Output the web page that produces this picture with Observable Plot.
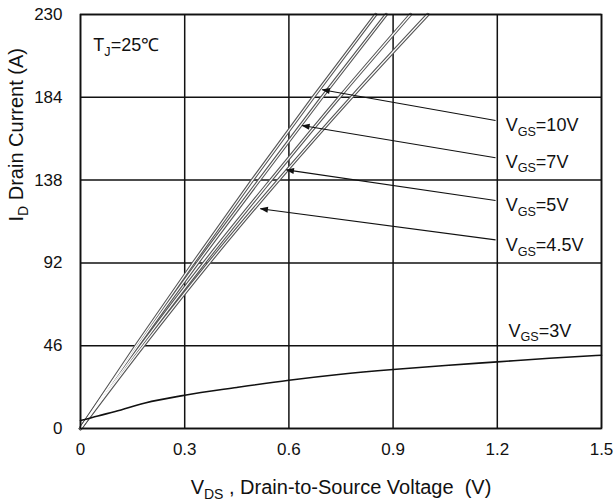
<!DOCTYPE html>
<html><head><meta charset="utf-8">
<script src="https://cdn.jsdelivr.net/npm/d3@7"></script>
<script src="https://cdn.jsdelivr.net/npm/@observablehq/plot@0.6"></script>
<style>html,body{margin:0;padding:0;background:#fff} svg{display:block}</style>
</head><body><div id="chart"></div>
<script>
// ---- data ----
const xTicks = [0, 0.3, 0.6, 0.9, 1.2, 1.5];
const yTicks = [0, 46, 92, 138, 184, 230];

// VGS = 10V, 7V, 5V, 4.5V  (VDS in V, ID in A)
const vds10 = [0, 0.160, 0.325, 0.495, 0.670, 0.850];
const id10  = [0, 46, 92, 138, 184, 230];
const vds7  = [0, 0.165, 0.337, 0.515, 0.695, 0.880];
const id7   = [0, 46, 92, 138, 184, 230];
const vds5  = [0, 0.174, 0.356, 0.548, 0.745, 0.950];
const id5   = [0, 46, 92, 138, 184, 230];
const vds45 = [0, 0.181, 0.370, 0.570, 0.780, 1.000];
const id45  = [0, 46, 92, 138, 184, 230];
// VGS = 3V
const vds3 = [0, 0.05, 0.1, 0.186, 0.3, 0.45, 0.6, 0.743, 0.9, 1.05, 1.2, 1.35, 1.5];
const id3  = [4.4, 7.0, 9.4, 14.2, 18.5, 22.8, 26.8, 30.0, 32.8, 35.0, 37.0, 39.0, 40.7];

const seriesNames = ["10V", "7V", "5V", "4.5V"];

// annotations (data coordinates)
const labelText = ["V_{GS}=10V", "V_{GS}=7V", "V_{GS}=5V", "V_{GS}=4.5V", "V_{GS}=3V"];
const labelV    = [1.224, 1.224, 1.224, 1.224, 1.232];
const labelI    = [168.3, 147.9, 123.9, 101.7, 54.1];
const arrowFromV = [1.195, 1.195, 1.195, 1.195];
const arrowFromI = [171.1, 150.4, 126.7, 104.8];
const arrowToV   = [0.696, 0.638, 0.593, 0.518];
const arrowToI   = [188.2, 168.3, 143.7, 122.1];

const tempText = ["T_{J}=25℃"];
const tempV = [0.037];
const tempI = [212.8];

const xTitle = "V_{DS} , Drain-to-Source Voltage  (V)";
const yTitle = "I_{D} Drain Current (A)";

// ---- tables ----
const highSeries = [[vds10, id10], [vds7, id7], [vds5, id5], [vds45, id45]];
const highRows = highSeries.flatMap(([vs, is], s) => vs.map((v, k) => ({vgs: seriesNames[s], v, i: is[k]})));
const lowRows = vds3.map((v, k) => ({v, i: id3[k]}));
const arrowRows = arrowFromV.map((_, k) => ({x1: arrowFromV[k], y1: arrowFromI[k], x2: arrowToV[k], y2: arrowToI[k]}));
const labelRows = labelText.map((t, k) => ({t, v: labelV[k], i: labelI[k]}));
const tempRows = tempText.map((t, k) => ({t, v: tempV[k], i: tempI[k]}));

const ink = "#111";
const chart = Plot.plot({
  width: 614,
  height: 504,
  marginLeft: 80,
  marginRight: 13,
  marginTop: 14,
  marginBottom: 76,
  style: {fontFamily: "'Liberation Sans', Arial, sans-serif", fontSize: "17px", color: ink, background: "#fff"},
  x: {domain: [0, 1.5]},
  y: {domain: [0, 230]},
  marks: [
    Plot.gridX(xTicks, {stroke: ink, strokeOpacity: 1, strokeWidth: 1.5}),
    Plot.gridY(yTicks, {stroke: ink, strokeOpacity: 1, strokeWidth: 1.5}),
    Plot.line(highRows, {x: "v", y: "i", z: "vgs", stroke: "#555", strokeWidth: 3.4, curve: "monotone-x"}),
    Plot.line(highRows, {x: "v", y: "i", z: "vgs", stroke: "#fff", strokeWidth: 1.2, curve: "monotone-x"}),
    Plot.line(lowRows, {x: "v", y: "i", stroke: ink, strokeWidth: 1.6, curve: "monotone-x"}),
    Plot.link(arrowRows, {x1: "x1", y1: "y1", x2: "x2", y2: "y2", stroke: ink, strokeWidth: 1.1}),
    Plot.text(labelRows, {x: "v", y: "i", text: "t", textAnchor: "start", lineAnchor: "middle", fontSize: 18}),
    Plot.text(tempRows, {x: "v", y: "i", text: "t", textAnchor: "start", lineAnchor: "middle", fontSize: 18}),
    Plot.frame({stroke: ink, strokeWidth: 1.6}),
    Plot.axisX(xTicks, {tickSize: 0, tickPadding: 14, label: null, fontSize: 17,
      tickFormat: d => d === 0 ? "0" : d.toFixed(1)}),
    Plot.axisY(yTicks, {tickSize: 0, tickPadding: 18, label: null, fontSize: 17, tickFormat: d => String(d)}),
    Plot.text([xTitle], {frameAnchor: "bottom", dy: 59, text: d => d, lineAnchor: "middle", fontSize: 20}),
    Plot.text([yTitle], {frameAnchor: "left", dx: -64, text: d => d, rotate: -90, lineAnchor: "middle", fontSize: 20})
  ]
});

// subscripts
const NS = "http://www.w3.org/2000/svg";
function applySubs(root) {
  root.querySelectorAll("text").forEach(t => {
    const kids = t.querySelectorAll("tspan");
    const targets = kids.length ? [...kids] : [t];
    targets.forEach(el => {
      const s = el.textContent;
      if (!s.includes("_{")) return;
      el.textContent = "";
      let shifted = false;
      s.split(/(_\{[^}]*\})/).forEach(p => {
        if (!p) return;
        const ts = document.createElementNS(NS, "tspan");
        if (p.startsWith("_{")) {
          ts.textContent = p.slice(2, -1);
          ts.setAttribute("font-size", "70%");
          ts.setAttribute("dy", "0.35em");
          shifted = true;
        } else {
          ts.textContent = p;
          if (shifted) { ts.setAttribute("dy", "-0.245em"); shifted = false; }
        }
        el.appendChild(ts);
      });
    });
  });
}
applySubs(chart);

// filled triangular arrowheads
const defs = document.createElementNS(NS, "defs");
defs.innerHTML = '<marker id="tri" viewBox="-11 -5 12 10" refX="0" refY="0" markerWidth="9" markerHeight="7.5" markerUnits="userSpaceOnUse" orient="auto"><path d="M-10,-4L1,0L-10,4Z" fill="#111"/></marker>';
chart.insertBefore(defs, chart.firstChild);
chart.querySelectorAll('g[aria-label="link"] path').forEach(p => p.setAttribute("marker-end", "url(#tri)"));

document.getElementById("chart").appendChild(chart);
</script>
</body></html>
